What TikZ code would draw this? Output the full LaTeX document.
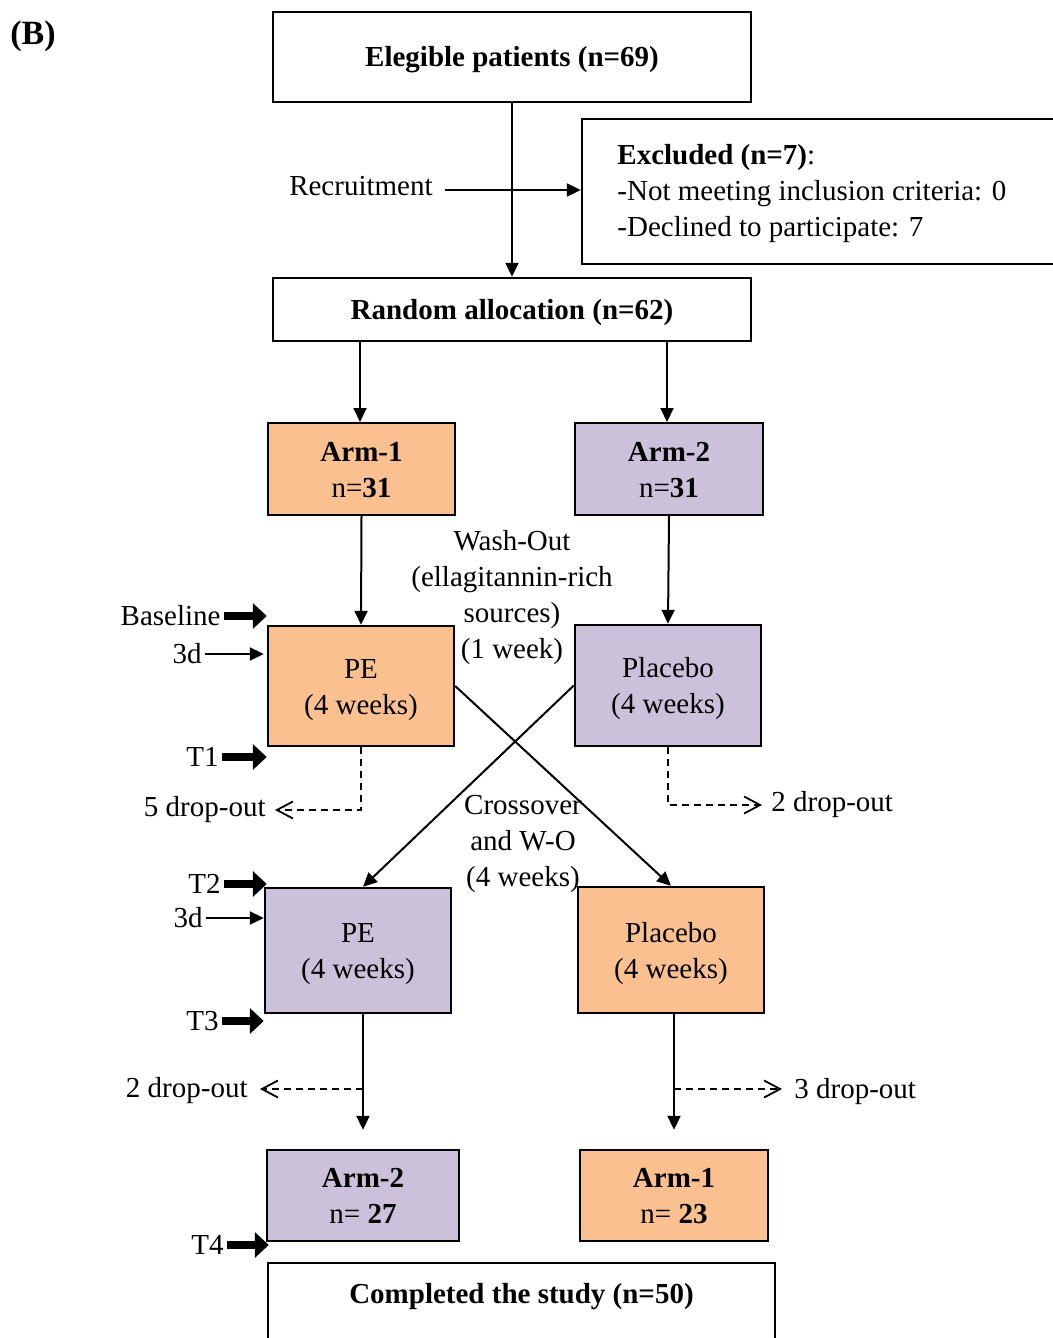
\documentclass[tikz,border=0pt]{standalone}
\usepackage{fontspec}
\setmainfont{Liberation Serif}
\usetikzlibrary{arrows.meta,calc}
\definecolor{orng}{RGB}{250,192,144}
\definecolor{purp}{RGB}{204,193,218}
\newcommand\bt[1]{\raisebox{-1.4pt}[\height][\depth]{\begin{tabular}{@{}c@{}}#1\end{tabular}}}
\begin{document}
\begin{tikzpicture}[x=0.5pt,y=-0.5pt,
  every node/.style={font=\fontsize{14.5pt}{18pt}\selectfont},
  box/.style={draw,line width=1.2pt,inner sep=0pt,align=center},
  conn/.style={line width=1pt,-{Triangle[length=7pt,width=6.5pt]}},
  dconn/.style={line width=0.9pt,dash pattern=on 3.5pt off 2.5pt,-{Straight Barb[length=8pt,width=8.5pt,line width=0.9pt]}},
  bigarrow/.style={line width=4pt,-{Triangle[length=7pt,width=12.5pt]}},
  lab/.style={inner sep=1.5pt}
]
\clip (0,0) rectangle (1053,1338);
\fill[white] (0,0) rectangle (1053,1338);

\node[font=\fontsize{17pt}{20pt}\selectfont] (B) at (33,36) {\bfseries (B)};

% boxes
\node[box,minimum width=239pt,minimum height=45pt] (elig) at (512,57) {\bt{\textbf{Elegible patients (n=69)}}};
\node[box,minimum width=250pt,minimum height=72.5pt] (excl) at (832,191.5) {};
\node[anchor=west,align=left,inner sep=0pt] (extxt) at (617,194) {\textbf{Excluded (n=7)}:\\-Not meeting inclusion criteria: 0\\-Declined to participate: 7};
\node[box,minimum width=239pt,minimum height=31.5pt] (rand) at (512,309.5) {\bt{\textbf{Random allocation (n=62)}}};

\node[box,fill=orng,minimum width=93.5pt,minimum height=46pt] (arm1) at (361.5,469) {\bt{\textbf{Arm-1}\\n=\textbf{31}}};
\node[box,fill=purp,minimum width=94pt,minimum height=46pt] (arm2) at (669,469) {\bt{\textbf{Arm-2}\\n=\textbf{31}}};

\node[box,fill=orng,minimum width=93pt,minimum height=60pt] (pe1) at (361,686) {\bt{PE\\(4 weeks)}};
\node[box,fill=purp,minimum width=93pt,minimum height=60.5pt] (pl1) at (668,685.5) {\bt{Placebo\\(4 weeks)}};

\node[box,fill=purp,minimum width=93pt,minimum height=62.5pt] (pe2) at (358,950.5) {\bt{PE\\(4 weeks)}};
\node[box,fill=orng,minimum width=93pt,minimum height=63pt] (pl2) at (671,950) {\bt{Placebo\\(4 weeks)}};

\node[box,fill=purp,minimum width=96pt,minimum height=45.5pt] (a2b) at (363,1195.5) {\bt{\textbf{Arm-2}\\n= \textbf{27}}};
\node[box,fill=orng,minimum width=94pt,minimum height=45.5pt] (a1b) at (674,1195.5) {\bt{\textbf{Arm-1}\\n= \textbf{23}}};

\node[box,minimum width=253.5pt,minimum height=45pt] (comp) at (521.5,1308) {};
\node (comptxt) at (521.5,1297) {\textbf{Completed the study (n=50)}};

% free texts
\node[inner sep=6pt,anchor=east] (rec) at (445,186) {Recruitment};
\node[align=center,inner sep=0pt] (wash) at (512,598) {Wash-Out\\(ellagitannin-rich\\sources)\\(1 week)};
\node[align=center,inner sep=0pt] (cross) at (523,844) {Crossover\\and W-O\\(4 weeks)};

% main connectors
\draw[conn] (elig.south) -- (rand.north);
\draw[conn] ([yshift=-2pt]rec.east) -- ([yshift=-2pt]rec.east -| excl.west);
\draw[conn] (360,341) coordinate (r1) -- (360,422);
\draw[conn] (667,341) coordinate (r2) -- (667,422);
\draw[conn] (arm1.south) -- (pe1.north);
\draw[conn] (arm2.south) -- (pl1.north);
\draw[conn] (pe1.east) -- (pl2.north);
\draw[conn] (pl1.west) -- ([xshift=2.5pt]pe2.north);
\draw[conn,shorten >=9.5pt] (a2b.north |- pe2.south) -- (a2b.north);
\draw[conn,shorten >=9.5pt] (a1b.north |- pl2.south) -- (a1b.north);

% drop-outs
\node[inner sep=4.5pt,anchor=east] (d1) at (275,810) {5 drop-out};
\draw[dconn] (pe1.south) |- (d1.east);
\node[inner sep=4.5pt,anchor=west] (d2) at (762,805) {2 drop-out};
\draw[dconn] (pl1.south) |- (d2.west);
\coordinate (b3) at (363,1089);
\node[inner sep=6pt,anchor=east] (d3) at (260,1091) {2 drop-out};
\draw[dconn] (b3) -- (b3 -| d3.east);
\coordinate (b4) at (674,1089);
\node[inner sep=6pt,anchor=west] (d4) at (782,1092) {3 drop-out};
\draw[dconn] (b4) -- (b4 -| d4.west);

% timepoints
\node[lab,anchor=east] (tb) at (224,616) {Baseline};
\draw[bigarrow] (tb.east) -- (tb.east -| pe1.west);
\node[lab,anchor=east] (t3a) at (205,654) {3d};
\draw[line width=1pt,-{Triangle[length=7pt,width=6.5pt]}] (t3a.east) -- ([xshift=-1.5pt]t3a.east -| pe1.west);
\node[lab,anchor=east] (t1) at (222,757) {T1};
\draw[bigarrow] (t1.east) -- (t1.east -| pe1.west);
\node[lab,anchor=east] (t2) at (224,884) {T2};
\draw[bigarrow] (t2.east) -- ([xshift=1.5pt]t2.east -| pe2.west);
\node[lab,anchor=east] (t3b) at (206,918) {3d};
\draw[line width=1pt,-{Triangle[length=7pt,width=6.5pt]}] (t3b.east) -- (t3b.east -| pe2.west);
\node[lab,anchor=east] (t3) at (222,1021) {T3};
\draw[bigarrow] (t3.east) -- (t3.east -| pe2.west);
\node[lab,anchor=east] (t4) at (227,1245) {T4};
\draw[bigarrow] (t4.east) -- ([xshift=1.5pt]t4.east -| a2b.west);
\end{tikzpicture}
\end{document}
